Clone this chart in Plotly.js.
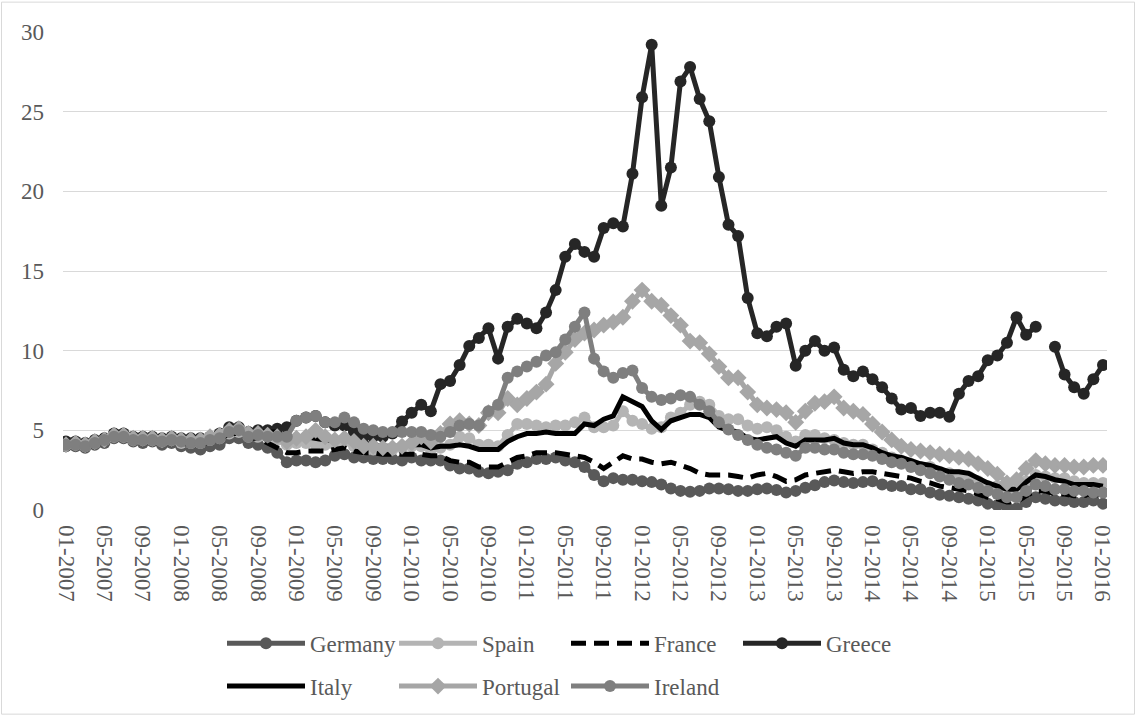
<!DOCTYPE html>
<html>
<head>
<meta charset="utf-8">
<script src="https://cdn.plot.ly/plotly-3.0.1.min.js"></script>
<style>html,body{margin:0;padding:0;background:#fff;}#chart{width:1136px;height:718px;}
#chart svg text{font-family:'Liberation Serif','Times New Roman',serif !important;}</style>
</head>
<body>
<div id="chart"></div>
<script>
// Monthly categories 01-2007 .. 01-2016
const startYear = 2007, endYear = 2016;
const months = [];
for (let y = startYear; y <= endYear; y++) {
  for (let m = 1; m <= 12; m++) {
    if (y === endYear && m > 1) break;
    months.push((m < 10 ? '0' + m : '' + m) + '-' + y);
  }
}
const tickLabels = ['01-2007','05-2007','09-2007','01-2008','05-2008','09-2008','01-2009','05-2009','09-2009',
  '01-2010','05-2010','09-2010','01-2011','05-2011','09-2011','01-2012','05-2012','09-2012',
  '01-2013','05-2013','09-2013','01-2014','05-2014','09-2014','01-2015','05-2015','09-2015','01-2016'];

const germany = [
  4.0,4.0,3.9,4.1,4.2,4.5,4.5,4.3,4.2,4.3,4.1,4.2,
  4.0,3.9,3.8,4.0,4.1,4.5,4.5,4.2,4.1,3.9,3.6,3.0,
  3.1,3.1,3.0,3.1,3.4,3.5,3.3,3.3,3.2,3.2,3.2,3.1,
  3.3,3.1,3.1,3.1,2.8,2.6,2.6,2.4,2.3,2.4,2.5,2.9,
  3.0,3.2,3.2,3.3,3.1,3.0,2.7,2.2,1.8,2.0,1.9,1.9,
  1.8,1.75,1.6,1.35,1.2,1.15,1.2,1.35,1.35,1.3,1.2,1.2,
  1.3,1.35,1.25,1.1,1.2,1.4,1.55,1.75,1.85,1.75,1.7,1.75,
  1.8,1.6,1.5,1.5,1.3,1.3,1.1,0.95,0.9,0.8,0.7,0.6,
  0.4,0.3,0.2,0.1,0.5,0.8,0.7,0.6,0.6,0.5,0.5,0.6,
  0.4];
const spain = [
  4.1,4.1,4.0,4.2,4.4,4.6,4.6,4.4,4.4,4.4,4.3,4.4,
  4.2,4.2,4.2,4.4,4.5,4.8,4.9,4.6,4.6,4.6,4.4,4.1,
  4.2,4.2,4.1,4.1,4.1,4.3,4.0,3.8,3.8,3.8,3.8,3.9,
  4.0,4.0,3.8,3.9,4.1,4.6,4.5,4.1,4.1,4.0,4.7,5.4,
  5.4,5.3,5.2,5.3,5.3,5.5,5.8,5.2,5.2,5.3,6.2,5.6,
  5.4,5.1,5.2,5.8,6.1,6.6,6.8,6.6,5.9,5.7,5.7,5.3,
  5.1,5.2,5.0,4.6,4.3,4.7,4.7,4.5,4.4,4.2,4.1,4.1,
  3.8,3.6,3.3,3.1,2.9,2.7,2.7,2.4,2.3,2.1,2.1,1.8,
  1.5,1.5,1.2,1.3,1.8,2.2,2.1,2.0,2.0,1.8,1.7,1.7,
  1.7];
const france = [
  4.1,4.1,4.0,4.2,4.3,4.6,4.6,4.4,4.4,4.4,4.3,4.4,
  4.2,4.1,4.1,4.3,4.4,4.8,4.8,4.5,4.5,4.2,3.9,3.6,
  3.6,3.7,3.7,3.7,3.8,3.9,3.7,3.6,3.6,3.5,3.5,3.5,
  3.5,3.5,3.4,3.4,3.1,3.0,3.0,2.7,2.7,2.7,3.0,3.3,
  3.4,3.6,3.6,3.6,3.5,3.4,3.3,3.0,2.6,3.0,3.4,3.2,
  3.2,3.0,2.9,3.0,2.8,2.6,2.3,2.2,2.2,2.2,2.1,2.0,
  2.2,2.3,2.1,1.8,1.9,2.2,2.3,2.4,2.5,2.4,2.3,2.4,
  2.4,2.3,2.2,2.1,2.0,1.8,1.7,1.5,1.4,1.3,1.2,1.0,
  0.8,0.7,0.5,0.5,0.9,1.2,1.2,1.0,1.0,0.9,0.9,1.0,
  0.9];
const greece = [
  4.3,4.3,4.2,4.4,4.5,4.8,4.8,4.6,4.6,4.6,4.5,4.6,
  4.5,4.5,4.5,4.6,4.8,5.2,5.2,4.9,5.0,5.0,5.1,5.2,
  5.6,5.8,5.9,5.5,5.3,5.3,4.9,4.6,4.6,4.6,4.8,5.55,
  6.1,6.6,6.2,7.9,8.1,9.1,10.3,10.8,11.4,9.5,11.5,12.0,
  11.7,11.4,12.4,13.8,15.9,16.7,16.2,15.9,17.7,18.0,17.8,21.1,
  25.9,29.2,19.1,21.5,26.9,27.8,25.8,24.4,20.9,17.9,17.2,13.3,
  11.1,10.9,11.5,11.7,9.05,10.0,10.6,10.0,10.2,8.8,8.4,8.7,
  8.2,7.7,7.0,6.3,6.4,5.9,6.1,6.1,5.85,7.3,8.1,8.4,
  9.4,9.7,10.5,12.1,11.0,11.5,null,10.25,8.5,7.7,7.3,8.2,
  9.1];
const italy = [
  4.2,4.2,4.1,4.3,4.4,4.7,4.7,4.6,4.6,4.6,4.5,4.6,
  4.5,4.5,4.5,4.6,4.7,5.0,5.1,4.9,4.9,4.9,4.9,4.5,
  4.6,4.6,4.5,4.4,4.4,4.6,4.4,4.2,4.1,4.0,4.0,4.0,
  4.1,4.1,3.9,4.0,4.0,4.1,4.0,3.8,3.8,3.8,4.3,4.6,
  4.8,4.8,4.9,4.8,4.8,4.8,5.4,5.3,5.7,5.9,7.1,6.8,
  6.5,5.6,5.05,5.6,5.8,6.0,6.0,5.8,5.2,5.0,4.9,4.5,
  4.4,4.5,4.6,4.2,4.0,4.4,4.4,4.4,4.5,4.2,4.1,4.1,
  3.9,3.6,3.4,3.3,3.1,2.9,2.8,2.6,2.4,2.4,2.3,2.0,
  1.7,1.5,1.3,1.3,1.8,2.2,2.1,1.9,1.8,1.6,1.6,1.6,
  1.5];
const portugal = [
  4.1,4.2,4.1,4.3,4.4,4.7,4.7,4.5,4.5,4.5,4.4,4.5,
  4.4,4.4,4.4,4.6,4.7,5.0,5.1,4.8,4.8,4.7,4.6,4.3,
  4.5,4.6,5.0,4.6,4.4,4.5,4.3,4.0,4.0,3.9,3.9,4.0,
  4.2,4.6,4.3,4.8,5.4,5.6,5.4,5.3,6.1,6.1,7.0,6.6,
  7.0,7.4,7.9,9.2,9.9,10.7,11.1,11.3,11.6,11.8,12.1,13.1,
  13.8,13.1,12.85,12.2,11.6,10.6,10.5,9.8,9.0,8.3,8.3,7.4,
  6.6,6.4,6.3,6.1,5.5,6.2,6.7,6.8,7.1,6.4,6.2,6.0,
  5.4,4.9,4.4,4.0,3.8,3.7,3.6,3.5,3.4,3.3,3.2,2.9,
  2.6,2.25,1.7,1.9,2.6,3.1,2.9,2.8,2.8,2.7,2.7,2.8,
  2.8];
const ireland = [
  4.1,4.1,4.0,4.2,4.4,4.6,4.6,4.4,4.4,4.4,4.3,4.4,
  4.3,4.2,4.2,4.4,4.5,4.9,5.0,4.6,4.7,4.6,4.6,4.6,
  5.6,5.8,5.9,5.5,5.5,5.8,5.5,5.1,5.0,4.9,4.9,4.9,
  4.9,4.9,4.7,4.6,4.9,5.3,5.4,5.3,6.2,6.6,8.3,8.7,
  9.0,9.3,9.7,9.9,10.7,11.5,12.4,9.5,8.7,8.3,8.6,8.75,
  7.65,7.1,6.9,7.0,7.2,7.1,6.6,6.2,5.5,5.05,4.7,4.4,
  4.1,3.9,3.8,3.6,3.4,3.9,3.9,3.8,3.8,3.6,3.5,3.5,
  3.4,3.2,3.0,2.9,2.7,2.5,2.3,2.1,1.9,1.7,1.6,1.4,
  1.2,1.0,0.8,0.8,1.2,1.6,1.5,1.3,1.3,1.2,1.2,1.1,
  1.1];

const seriesNames = ['Germany','Spain','France','Greece','Italy','Portugal','Ireland'];
const seriesData = [germany, spain, france, greece, italy, portugal, ireland];
const seriesColors = ['#595959','#b4b4b4','#000000','#262626','#000000','#a6a6a6','#7f7f7f'];
const seriesMarkers = ['circle','circle',null,'circle',null,'diamond','circle'];
const seriesDash = ['solid','solid','15px,8px','solid','solid','solid','solid'];
const seriesLegend = ['legend','legend','legend','legend','legend2','legend2','legend2'];

const traces = seriesNames.map((name, k) => {
  const t = {
    type: 'scatter',
    x: months,
    y: seriesData[k],
    name: name,
    legend: seriesLegend[k],
    line: {color: seriesColors[k], width: 5, dash: seriesDash[k]},
    hoverinfo: 'x+y+name'
  };
  if (seriesMarkers[k]) {
    t.mode = 'lines+markers';
    t.marker = {symbol: seriesMarkers[k], size: seriesMarkers[k] === 'diamond' ? 13 : 12, color: seriesColors[k]};
  } else {
    t.mode = 'lines';
  }
  return t;
});

const FAMILY = 'Liberation Serif';
function serifFont() { return {family: FAMILY, size: 23, color: '#595959'}; }

function makeLegend(yPx) {
  return {
    orientation: 'h', font: serifFont(), itemwidth: 78, entrywidth: 79,
    x: (222 - 63) / 1044, y: (511.5 - yPx) / 480,
    xanchor: 'left', yanchor: 'middle', bgcolor: 'rgba(0,0,0,0)', borderwidth: 0,
    tracegroupgap: 0, itemclick: false, itemdoubleclick: false
  };
}

const layout = {
  width: 1136, height: 718,
  margin: {l: 63, r: 29, t: 31.5, b: 206.5},
  paper_bgcolor: '#ffffff', plot_bgcolor: '#ffffff',
  font: serifFont(),
  showlegend: true,
  xaxis: {
    type: 'category',
    range: [-0.31, 108.42],
    tickmode: 'array', tickvals: tickLabels, ticktext: tickLabels,
    tickangle: 90, ticklabelstandoff: 14,
    tickfont: serifFont(),
    showgrid: false, zeroline: false, showline: false, ticks: '',
    fixedrange: true
  },
  yaxis: {
    range: [0, 30], dtick: 5, tick0: 0,
    showgrid: true, gridcolor: '#d9d9d9', gridwidth: 1,
    zeroline: false, showline: false, ticks: '',
    tickfont: serifFont(),
    ticklabelstandoff: 18, fixedrange: true
  },
  legend: makeLegend(644),
  legend2: makeLegend(687),
  shapes: [{
    type: 'rect', xref: 'paper', yref: 'paper',
    x0: (1.5 - 63) / 1044, x1: (1134.5 - 63) / 1044,
    y0: (511.5 - 716.5) / 480, y1: (511.5 - 1.5) / 480,
    line: {color: '#d9d9d9', width: 1}, fillcolor: 'rgba(0,0,0,0)', layer: 'below'
  }]
};

function forceSerif() {
  document.querySelectorAll('#chart svg text').forEach(function (el) {
    el.setAttribute('font-family', FAMILY);
    el.style.setProperty('font-family', FAMILY, 'important');
  });
}

function draw() {
  return Plotly.newPlot('chart', traces, layout, {displayModeBar: false, staticPlot: true}).then(forceSerif);
}

draw();
if (document.fonts && document.fonts.load) {
  document.fonts.load('23px "' + FAMILY + '"').then(function () { return draw(); }).catch(function () {});
}
</script>
</body>
</html>
